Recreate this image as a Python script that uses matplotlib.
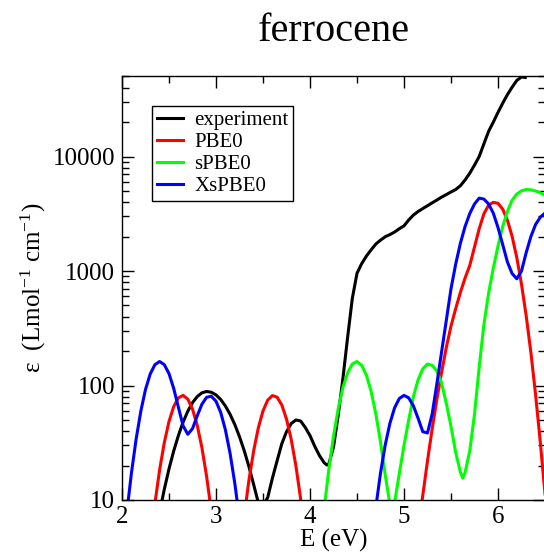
import matplotlib
matplotlib.use("Agg")
import matplotlib.pyplot as plt
from matplotlib.ticker import FixedLocator, MultipleLocator, LogLocator, NullFormatter, FuncFormatter

# ---- spectra: energy (eV) and molar absorptivity (L mol^-1 cm^-1) ----
exp_energy = [2.40, 2.45, 2.50, 2.55, 2.60, 2.65, 2.70, 2.75, 2.80, 2.85, 2.90, 2.95,
              3.00, 3.05, 3.10, 3.15, 3.20, 3.25, 3.30, 3.35, 3.40, 3.45, 3.50, 3.55,
              3.60, 3.65, 3.70, 3.75, 3.80, 3.85, 3.90, 3.95, 4.00, 4.05, 4.10, 4.15,
              4.18, 4.20, 4.25, 4.30, 4.35, 4.40, 4.45, 4.50, 4.55, 4.60, 4.65, 4.70,
              4.75, 4.80, 4.85, 4.90, 4.95, 5.00, 5.05, 5.10, 5.15, 5.20, 5.25, 5.30,
              5.35, 5.40, 5.45, 5.50, 5.55, 5.60, 5.65, 5.70, 5.75, 5.80, 5.85, 5.90,
              5.95, 6.00, 6.05, 6.10, 6.15, 6.20, 6.25, 6.29]
exp_eps = [7.8, 12.4, 18.7, 26.8, 36.6, 47.9, 59.6, 70.8, 80.0, 86.3, 88.7, 87.3,
           82.8, 75.5, 66.2, 56.0, 45.6, 35.7, 27.0, 19.6, 13.7, 9.5, 9.0, 10.5,
           15.5, 22.0, 31.0, 39.5, 46.5, 50.0, 49.0, 43.0, 36.5, 29.5, 24.5, 21.2,
           20.2, 20.6, 29.0, 55.0, 115, 263, 575, 955, 1160, 1350, 1530, 1720,
           1860, 1990, 2080, 2190, 2340, 2480, 2790, 3080, 3310, 3510, 3720, 3940,
           4170, 4420, 4650, 4900, 5150, 5560, 6240, 7160, 8410, 10000, 12900, 16600,
           19950, 24300, 29200, 34700, 40300, 46200, 49500, 49000]

pbe0_energy = [2.30, 2.35, 2.40, 2.45, 2.50, 2.55, 2.60, 2.65, 2.70, 2.75, 2.80, 2.85,
               2.90, 2.95, 3.00, 3.10, 3.20, 3.30, 3.35, 3.40, 3.45, 3.50, 3.55, 3.60,
               3.65, 3.70, 3.75, 3.80, 3.85, 3.90, 3.95, 4.00, 4.50, 5.10, 5.15, 5.20,
               5.25, 5.30, 5.35, 5.40, 5.45, 5.50, 5.55, 5.60, 5.65, 5.70, 5.75, 5.80,
               5.85, 5.90, 5.95, 6.00, 6.05, 6.10, 6.15, 6.20, 6.25, 6.30, 6.35, 6.40,
               6.45, 6.50]
pbe0_eps = [4.2, 9.3, 18.3, 31.7, 48.5, 65.5, 78.0, 82.0, 76.0, 62.3, 45.0, 28.7,
            16.1, 8.0, 3.5, 0.6, 1.2, 7.2, 14.8, 26.7, 42.6, 60.0, 74.5, 81.7,
            79.1, 67.6, 50.9, 33.9, 19.9, 10.3, 4.7, 1.9, 0.3, 2.6, 5.6, 11.0,
            22.0, 42.0, 76.0, 130, 215, 330, 470, 650, 870, 1120, 1620, 2340,
            3160, 3760, 3980, 3900, 3470, 2780, 2010, 1310, 767, 406, 194, 83,
            32.0, 11.3]

spbe0_energy = [4.10, 4.15, 4.20, 4.25, 4.30, 4.35, 4.40, 4.45, 4.50, 4.55, 4.60, 4.65,
                4.70, 4.75, 4.80, 4.85, 4.90, 4.95, 5.00, 5.05, 5.10, 5.15, 5.20, 5.25,
                5.30, 5.35, 5.40, 5.45, 5.50, 5.55, 5.60, 5.625, 5.65, 5.70, 5.75, 5.80,
                5.85, 5.90, 5.95, 6.00, 6.05, 6.10, 6.15, 6.20, 6.25, 6.30, 6.35, 6.40,
                6.45, 6.50]
spbe0_eps = [3.3, 8.3, 18.4, 36.1, 62.6, 95.8, 129, 154, 162, 150, 123, 88.9,
             56.8, 32.1, 16.6, 9.2, 9.5, 17.0, 30.0, 50.0, 80.0, 112, 140, 154,
             150, 134, 105, 70.0, 44.0, 26.0, 17.5, 15.5, 17.4, 27.0, 56.0, 145,
             340, 640, 1060, 1650, 2450, 3300, 4150, 4700, 5020, 5150, 5120, 5000,
             4820, 4600]

xspbe0_energy = [2.00, 2.05, 2.10, 2.15, 2.20, 2.25, 2.30, 2.35, 2.40, 2.45, 2.50, 2.55,
                 2.60, 2.65, 2.70, 2.75, 2.80, 2.85, 2.90, 2.95, 3.00, 3.05, 3.10, 3.15,
                 3.20, 3.25, 3.30, 3.80, 4.65, 4.70, 4.75, 4.80, 4.85, 4.90, 4.95, 5.00,
                 5.05, 5.10, 5.15, 5.20, 5.25, 5.30, 5.35, 5.40, 5.45, 5.50, 5.55, 5.60,
                 5.65, 5.70, 5.75, 5.80, 5.85, 5.90, 5.95, 6.00, 6.05, 6.10, 6.15, 6.20,
                 6.25, 6.30, 6.35, 6.40, 6.45, 6.50]
xspbe0_eps = [3.0, 7.6, 17.1, 33.9, 59.6, 92.3, 126, 152, 162, 152, 127, 94.3,
              64.5, 44.5, 37.5, 42.0, 54.3, 68.6, 78.9, 80.6, 72.9, 58.2, 41.0, 25.5,
              14.0, 6.8, 2.9, 0.2, 3.8, 8.6, 17.2, 30.2, 46.7, 63.9, 77.0, 82.0,
              78.0, 66.4, 51.7, 39.5, 38.5, 56.6, 104, 197, 370, 700, 1150, 1750,
              2450, 3180, 3850, 4330, 4250, 3850, 3200, 2400, 1700, 1200, 950, 855,
              1000, 1450, 2000, 2550, 2950, 3200]

series_labels = ["experiment", "PBE0", "sPBE0", "XsPBE0"]
series_colors = ["black", "#ff0000", "#00ff00", "#0000ff"]

x_ticks = [2, 3, 4, 5, 6]
y_ticks = [10, 100, 1000, 10000]

# ---- styling ----
plt.rcParams["font.family"] = ["Liberation Serif", "DejaVu Serif"]
plt.rcParams["mathtext.fontset"] = "custom"
plt.rcParams["mathtext.rm"] = "Liberation Serif"
plt.rcParams["mathtext.it"] = "Liberation Serif:italic"

W, H = 544, 552
fig = plt.figure(figsize=(W / 100, H / 100), dpi=100)
ax = fig.add_axes([122 / W, 52 / H, 423 / W, 424.5 / H])

curves = [(exp_energy, exp_eps), (pbe0_energy, pbe0_eps),
          (spbe0_energy, spbe0_eps), (xspbe0_energy, xspbe0_eps)]
for (e, eps), lab, col in zip(curves, series_labels, series_colors):
    ax.plot(e, eps, color=col, lw=2.2, label=lab, solid_joinstyle="round")

ax.set_yscale("log")
ax.set_xlim(2, 6.5)
ax.set_ylim(10, 51000)

ax.xaxis.set_major_locator(FixedLocator(x_ticks))
ax.xaxis.set_minor_locator(MultipleLocator(0.5))
ax.yaxis.set_major_locator(FixedLocator(y_ticks))
ax.yaxis.set_minor_locator(LogLocator(base=10, subs=range(2, 10)))
ax.yaxis.set_major_formatter(FuncFormatter(lambda v, p: "%d" % round(v)))
ax.yaxis.set_minor_formatter(NullFormatter())
ax.xaxis.set_major_formatter(FuncFormatter(lambda v, p: "%d" % round(v)))

ax.tick_params(which="both", direction="in", top=True, right=True, width=1.0,
               colors="black", labelsize=18)
ax.tick_params(which="major", length=8.6)
ax.tick_params(which="minor", length=5.0)
ax.tick_params(axis="x", which="major", pad=4)
ax.tick_params(axis="y", which="major", pad=5)
for s in ax.spines.values():
    s.set_linewidth(1.0)

ax.set_xlabel("E (eV)", fontsize=18, labelpad=1)
ax.set_ylabel("ε  (Lmol$^{-1}$ cm$^{-1}$)", fontsize=18, labelpad=3)

leg = ax.legend(loc="upper left", bbox_to_anchor=(30 / 423, (500 - 106) / 424.5),
                borderaxespad=0, frameon=True, fancybox=False, shadow=False,
                edgecolor="black", framealpha=1, borderpad=0.22, handlelength=1.25,
                handletextpad=0.55, labelspacing=0.12, prop={"size": 15})
leg.get_frame().set_linewidth(1.0)

fig.text(333.5 / W, 1 - 41 / H, "ferrocene", ha="center", va="baseline", fontsize=29)

fig.savefig("out.png", dpi=100)
